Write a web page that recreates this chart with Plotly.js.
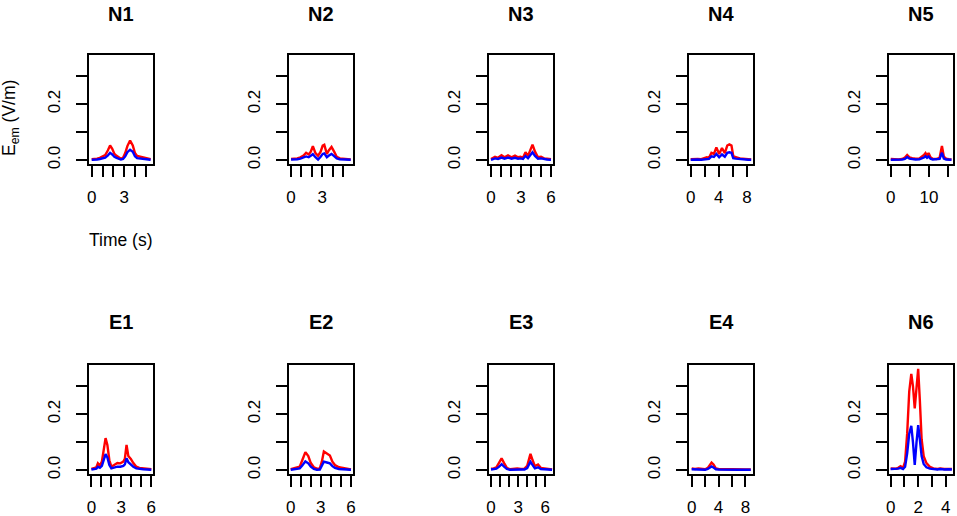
<!DOCTYPE html>
<html>
<head>
<meta charset="utf-8">
<script src="https://cdn.plot.ly/plotly-3.0.1.min.js"></script>
<style>
  html, body { margin: 0; padding: 0; background: #fff; }
  #chart { width: 957px; height: 516px; }
</style>
</head>
<body>
<div id="chart"></div>
<script>
// panel titles, in drawing order (row 1 then row 2)
const panelNames = ["N1", "N2", "N3", "N4", "N5", "E1", "E2", "E3", "E4", "N6"]

// time (s), red and blue series for each panel
const tN1 = [0, 0.25, 0.5, 0.75, 1.0, 1.25, 1.5, 1.7, 1.9, 2.1, 2.3, 2.5, 2.7, 2.9, 3.1, 3.3, 3.55, 3.8, 4.0, 4.2, 4.5, 4.8, 5.1, 5.45]
const redN1 = [0.003, 0.003, 0.005, 0.008, 0.012, 0.018, 0.035, 0.052, 0.04, 0.022, 0.015, 0.01, 0.005, 0.008, 0.025, 0.05, 0.07, 0.052, 0.025, 0.015, 0.012, 0.007, 0.005, 0.003]
const blueN1 = [0.001, 0.001, 0.002, 0.004, 0.006, 0.009, 0.017, 0.026, 0.02, 0.012, 0.008, 0.005, 0.002, 0.004, 0.013, 0.028, 0.037, 0.03, 0.014, 0.007, 0.005, 0.003, 0.002, 0.001]

const tN2 = [0, 0.3, 0.6, 0.9, 1.2, 1.45, 1.7, 1.9, 2.1, 2.35, 2.6, 2.85, 3.05, 3.2, 3.45, 3.65, 3.9, 4.15, 4.4, 4.7, 5.0, 5.3, 5.75]
const redN2 = [0.004, 0.004, 0.006, 0.01, 0.016, 0.026, 0.02, 0.03, 0.05, 0.025, 0.015, 0.03, 0.052, 0.055, 0.022, 0.035, 0.047, 0.03, 0.012, 0.006, 0.005, 0.004, 0.002]
const blueN2 = [0.002, 0.002, 0.003, 0.005, 0.008, 0.013, 0.01, 0.014, 0.021, 0.01, 0.002, 0.012, 0.022, 0.024, 0.01, 0.016, 0.022, 0.014, 0.006, 0.003, 0.002, 0.002, 0.001]

const tN3 = [0, 0.2, 0.4, 0.7, 1.05, 1.35, 1.7, 2.05, 2.4, 2.7, 2.95, 3.2, 3.45, 3.7, 3.95, 4.15, 4.4, 4.7, 5.0, 5.3, 5.6, 6.0]
const redN3 = [0.004, 0.008, 0.012, 0.008, 0.017, 0.01, 0.017, 0.01, 0.016, 0.01, 0.012, 0.008, 0.028, 0.015, 0.035, 0.055, 0.03, 0.01, 0.012, 0.006, 0.005, 0.003]
const blueN3 = [0.001, 0.004, 0.006, 0.004, 0.009, 0.005, 0.009, 0.005, 0.008, 0.005, 0.006, 0.004, 0.015, 0.007, 0.018, 0.028, 0.015, 0.005, 0.006, 0.003, 0.002, 0.001]

const tN4 = [0, 0.5, 1.0, 1.5, 2.0, 2.3, 2.6, 2.95, 3.3, 3.65, 4.05, 4.45, 4.85, 5.2, 5.5, 5.8, 6.05, 6.4, 7.0, 7.6, 8.2, 8.6]
const redN4 = [0.003, 0.004, 0.004, 0.003, 0.006, 0.01, 0.008, 0.026, 0.022, 0.045, 0.022, 0.043, 0.025, 0.052, 0.056, 0.052, 0.015, 0.01, 0.006, 0.004, 0.003, 0.002]
const blueN4 = [0.001, 0.002, 0.002, 0.001, 0.003, 0.005, 0.004, 0.013, 0.011, 0.022, 0.01, 0.02, 0.012, 0.026, 0.028, 0.026, 0.007, 0.005, 0.003, 0.002, 0.001, 0.001]

const tN5 = [0, 1, 2, 3, 3.7, 4.3, 4.9, 5.6, 6.5, 7.5, 8.3, 8.7, 9.1, 9.5, 9.9, 10.4, 11, 12, 12.8, 13.4, 13.9, 14.5, 15.2, 15.9]
const redN5 = [0.004, 0.003, 0.002, 0.004, 0.009, 0.018, 0.01, 0.007, 0.005, 0.006, 0.012, 0.018, 0.025, 0.016, 0.025, 0.01, 0.005, 0.004, 0.008, 0.05, 0.012, 0.005, 0.003, 0.002]
const blueN5 = [0.001, 0.001, 0.001, 0.002, 0.004, 0.011, 0.005, 0.003, 0.002, 0.003, 0.006, 0.009, 0.014, 0.008, 0.013, 0.005, 0.002, 0.002, 0.004, 0.026, 0.005, 0.002, 0.001, 0.001]

const tE1 = [0, 0.25, 0.5, 0.65, 0.85, 1.05, 1.25, 1.42, 1.6, 1.8, 2.0, 2.3, 2.6, 2.9, 3.2, 3.35, 3.52, 3.7, 3.95, 4.2, 4.5, 4.8, 5.2, 5.6, 6.0]
const redE1 = [0.004, 0.006, 0.01, 0.024, 0.016, 0.03, 0.08, 0.114, 0.09, 0.035, 0.012, 0.02, 0.025, 0.024, 0.03, 0.04, 0.09, 0.05, 0.04, 0.025, 0.012, 0.008, 0.006, 0.005, 0.003]
const blueE1 = [0.002, 0.003, 0.005, 0.012, 0.008, 0.015, 0.04, 0.057, 0.045, 0.018, 0.006, 0.01, 0.012, 0.012, 0.015, 0.02, 0.042, 0.028, 0.02, 0.012, 0.006, 0.004, 0.003, 0.002, 0.001]

const tE2 = [0, 0.3, 0.6, 0.9, 1.15, 1.46, 1.75, 2.0, 2.3, 2.6, 2.9, 3.1, 3.3, 3.6, 3.9, 4.15, 4.4, 4.8, 5.2, 5.6, 6.0]
const redE2 = [0.003, 0.006, 0.01, 0.012, 0.035, 0.064, 0.05, 0.025, 0.01, 0.005, 0.006, 0.03, 0.066, 0.058, 0.052, 0.03, 0.018, 0.01, 0.008, 0.004, 0.002]
const blueE2 = [0.001, 0.003, 0.005, 0.006, 0.016, 0.031, 0.024, 0.012, 0.004, 0.001, 0.002, 0.014, 0.03, 0.027, 0.024, 0.014, 0.008, 0.004, 0.003, 0.002, 0.001]

const tE3 = [0, 0.3, 0.6, 0.9, 1.17, 1.45, 1.75, 2.1, 2.5, 2.9, 3.3, 3.7, 4.0, 4.2, 4.36, 4.6, 4.85, 5.2, 5.5, 5.9, 6.3, 6.75]
const redE3 = [0.005, 0.006, 0.01, 0.025, 0.042, 0.025, 0.008, 0.003, 0.004, 0.006, 0.004, 0.005, 0.015, 0.04, 0.058, 0.035, 0.014, 0.02, 0.008, 0.006, 0.004, 0.002]
const blueE3 = [0.002, 0.003, 0.005, 0.012, 0.021, 0.012, 0.004, 0.001, 0.002, 0.003, 0.002, 0.002, 0.007, 0.02, 0.03, 0.018, 0.006, 0.01, 0.004, 0.003, 0.002, 0.001]

const tE4 = [0, 0.5, 1.0, 1.5, 2.0, 2.4, 2.7, 2.96, 3.25, 3.6, 4.0, 5.0, 6.0, 7.0, 8.0, 8.8]
const redE4 = [0.006, 0.004, 0.006, 0.005, 0.003, 0.008, 0.02, 0.027, 0.02, 0.006, 0.004, 0.003, 0.003, 0.003, 0.002, 0.002]
const blueE4 = [0.003, 0.002, 0.003, 0.002, 0.001, 0.004, 0.01, 0.013, 0.009, 0.003, 0.002, 0.001, 0.001, 0.001, 0.001, 0.001]

const tN6 = [0, 0.2, 0.4, 0.55, 0.72, 0.9, 1.05, 1.2, 1.35, 1.5, 1.62, 1.75, 1.88, 2.0, 2.12, 2.25, 2.4, 2.6, 2.85, 3.1, 3.4, 3.6, 3.9, 4.2, 4.45]
const redN6 = [0.006, 0.006, 0.005, 0.008, 0.014, 0.008, 0.03, 0.13, 0.28, 0.343, 0.3, 0.22, 0.3, 0.361, 0.25, 0.11, 0.05, 0.025, 0.012, 0.006, 0.004, 0.006, 0.004, 0.005, 0.004]
const blueN6 = [0.004, 0.004, 0.003, 0.005, 0.008, 0.004, 0.012, 0.06, 0.13, 0.158, 0.1, 0.018, 0.1, 0.16, 0.11, 0.05, 0.022, 0.01, 0.005, 0.003, 0.002, 0.004, 0.002, 0.003, 0.002]

// x tick marks and their labels (R drops the ones that would overlap)
const xTicksN1 = [0, 1, 2, 3, 4, 5], xLabelsN1 = ["0", " ", " ", "3", " ", " "]
const xTicksN2 = [0, 1, 2, 3, 4, 5], xLabelsN2 = ["0", " ", " ", "3", " ", " "]
const xTicksN3 = [0, 1, 2, 3, 4, 5, 6], xLabelsN3 = ["0", " ", " ", "3", " ", " ", "6"]
const xTicksN4 = [0, 2, 4, 6, 8], xLabelsN4 = ["0", " ", "4", " ", "8"]
const xTicksN5 = [0, 5, 10, 15], xLabelsN5 = ["0", " ", "10", " "]
const xTicksE1 = [0, 1, 2, 3, 4, 5, 6], xLabelsE1 = ["0", " ", " ", "3", " ", " ", "6"]
const xTicksE2 = [0, 1, 2, 3, 4, 5, 6], xLabelsE2 = ["0", " ", " ", "3", " ", " ", "6"]
const xTicksE3 = [0, 1, 2, 3, 4, 5, 6], xLabelsE3 = ["0", " ", " ", "3", " ", " ", "6"]
const xTicksE4 = [0, 2, 4, 6, 8], xLabelsE4 = ["0", " ", "4", " ", "8"]
const xTicksN6 = [0, 1, 2, 3, 4], xLabelsN6 = ["0", " ", "2", " ", "4"]

const yTicks = [0, 0.1, 0.2, 0.3]
const yLabels = ["0.0", " ", "0.2", " "]

const yTitle = "E<sub>em</sub> (V/m)"
const xTitle = "Time (s)"

const series = [
  [tN1, redN1, blueN1, xTicksN1, xLabelsN1],
  [tN2, redN2, blueN2, xTicksN2, xLabelsN2],
  [tN3, redN3, blueN3, xTicksN3, xLabelsN3],
  [tN4, redN4, blueN4, xTicksN4, xLabelsN4],
  [tN5, redN5, blueN5, xTicksN5, xLabelsN5],
  [tE1, redE1, blueE1, xTicksE1, xLabelsE1],
  [tE2, redE2, blueE2, xTicksE2, xLabelsE2],
  [tE3, redE3, blueE3, xTicksE3, xLabelsE3],
  [tE4, redE4, blueE4, xTicksE4, xLabelsE4],
  [tN6, redN6, blueN6, xTicksN6, xLabelsN6],
]

// geometry (pixels) and axis ranges, as measured on the picture
const W = 957, H = 516
const boxLeft = [89, 289, 489, 689, 889]
const boxW = 64
const rowTop = [55, 365], rowBottom = [164, 474]
const titleY = [13.5, 322]
const xRanges = [
  [-0.25, 5.67], [-0.2, 5.97], [-0.2, 6.2], [-0.24, 8.86], [-0.46, 16.3],
  [-0.24, 6.17], [-0.17, 6.2], [-0.22, 6.85], [-0.4, 9.13], [-0.12, 4.53],
]
const yRange = [-0.014, 0.375]

const font = "Liberation Sans, Arial, Helvetica, sans-serif"

let data = []
let layout = {
  width: W,
  height: H,
  margin: { l: 0, r: 0, t: 0, b: 0 },
  paper_bgcolor: "#fff",
  plot_bgcolor: "#fff",
  showlegend: false,
  font: { family: font, size: 17, color: "#000" },
  annotations: [],
}

for (let i = 0; i < series.length; i++) {
  const [t, red, blue, xt, xl] = series[i]
  const col = i % 5
  const row = Math.floor(i / 5)
  const n = i === 0 ? "" : String(i + 1)

  data.push({
    x: t, y: red, xaxis: "x" + n, yaxis: "y" + n,
    type: "scatter", mode: "lines",
    line: { color: "#ff0000", width: 2.4 },
    hoverinfo: "skip",
  })
  data.push({
    x: t, y: blue, xaxis: "x" + n, yaxis: "y" + n,
    type: "scatter", mode: "lines",
    line: { color: "#0000ff", width: 2.4 },
    hoverinfo: "skip",
  })

  const x0 = boxLeft[col] / W
  const x1 = (boxLeft[col] + boxW) / W
  layout["xaxis" + n] = {
    domain: [x0, x1],
    anchor: "y" + n,
    range: xRanges[i],
    tickmode: "array",
    tickvals: xt,
    ticktext: xl,
    tickangle: 0,
    ticks: "outside",
    ticklen: 11,
    tickwidth: 2,
    tickcolor: "#000",
    ticklabelstandoff: 6,
    showline: true,
    mirror: true,
    linecolor: "#000",
    linewidth: 2,
    showgrid: false,
    zeroline: false,
    tickfont: { family: font, size: 17, color: "#000" },
  }
  layout["yaxis" + n] = {
    domain: [1 - rowBottom[row] / H, 1 - rowTop[row] / H],
    anchor: "x" + n,
    range: yRange,
    tickmode: "array",
    tickvals: yTicks,
    ticktext: yLabels,
    tickangle: -90,
    ticks: "outside",
    ticklen: 11,
    tickwidth: 2,
    tickcolor: "#000",
    ticklabelstandoff: 9,
    showline: true,
    mirror: true,
    linecolor: "#000",
    linewidth: 2,
    showgrid: false,
    zeroline: false,
    tickfont: { family: font, size: 17, color: "#000" },
  }

  layout.annotations.push({
    text: "<b>" + panelNames[i] + "</b>",
    xref: "paper", yref: "paper",
    x: (boxLeft[col] + boxW / 2) / W,
    y: 1 - titleY[row] / H,
    xanchor: "center", yanchor: "middle",
    showarrow: false,
    font: { family: font, size: 20, color: "#000" },
  })
}

// axis titles only on the first panel
layout.annotations.push({
  text: yTitle,
  xref: "paper", yref: "paper",
  x: 11 / W, y: 1 - 118 / H,
  xanchor: "center", yanchor: "middle",
  textangle: -90,
  showarrow: false,
  font: { family: font, size: 17.5, color: "#000" },
})
layout.annotations.push({
  text: xTitle,
  xref: "paper", yref: "paper",
  x: 121 / W, y: 1 - 240 / H,
  xanchor: "center", yanchor: "middle",
  showarrow: false,
  font: { family: font, size: 17.5, color: "#000" },
})

Plotly.newPlot("chart", data, layout, { displayModeBar: false, staticPlot: true })
</script>
</body>
</html>
